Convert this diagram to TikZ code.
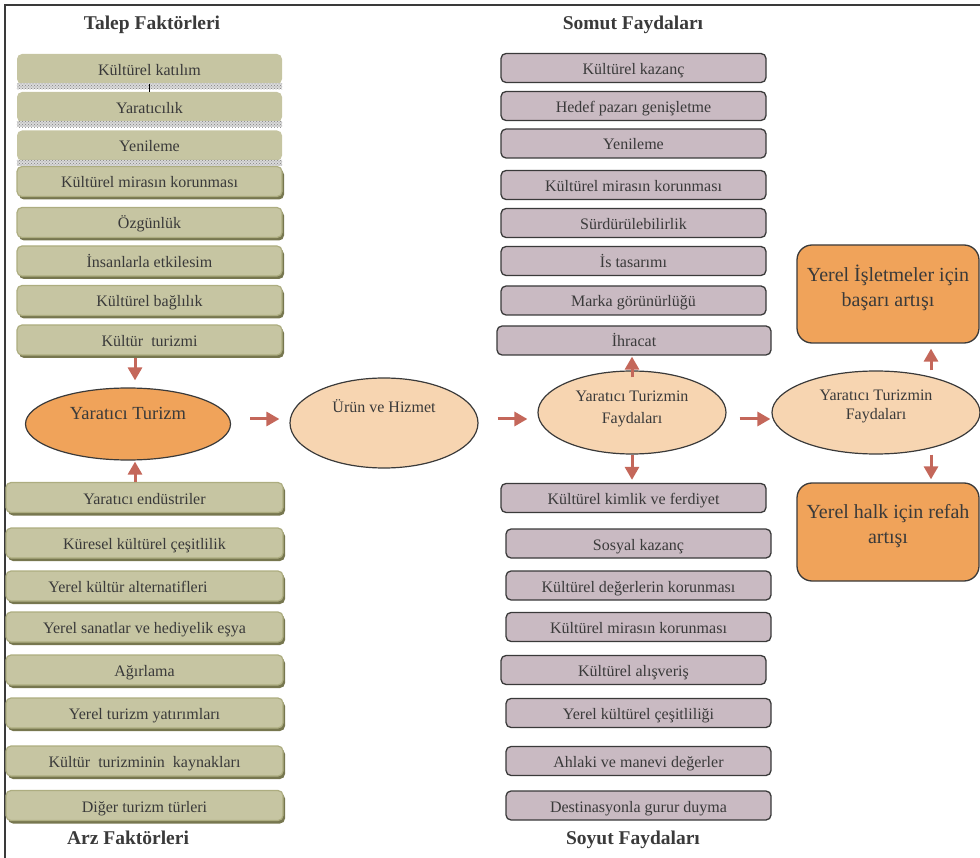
\documentclass[tikz,border=0pt]{standalone}
\usepackage{fontspec}
\setmainfont{Liberation Serif}
\usepackage{tikz}
\usetikzlibrary{arrows.meta, positioning, shapes.geometric, shadows, patterns}

\definecolor{talepGreen}{HTML}{C6C5A2}
\definecolor{talepRim}{HTML}{ADAD80}
\definecolor{talepShadow}{HTML}{77774F}
\definecolor{faydaPurple}{HTML}{C9BAC2}
\definecolor{turizmOrange}{HTML}{F0A35A}
\definecolor{faydaPeach}{HTML}{F7D5B1}
\definecolor{okRed}{HTML}{C4675A}
\definecolor{lineGray}{HTML}{3A3A3A}
\definecolor{textGray}{HTML}{3A3A3A}

\begin{document}
\begin{tikzpicture}[x=1pt, y=-1pt, text=textGray,
    font=\fontsize{16}{19}\selectfont,
    factorTex/.style={fill=talepGreen, rounded corners=5pt, minimum height=30pt, inner sep=0pt, text height=14pt, text depth=1pt},
    factor/.style={factorTex, draw=talepRim, line width=1.2pt,
        drop shadow={shadow xshift=2pt, shadow yshift=-3pt, fill=talepShadow, opacity=1}},
    fayda/.style={draw=lineGray, line width=1.3pt, fill=faydaPurple, rounded corners=5pt, minimum height=29pt, inner sep=0pt, text height=14pt, text depth=1pt},
    oval/.style={ellipse, draw=lineGray, line width=1.2pt, fill=faydaPeach, inner sep=0pt, align=center},
    result/.style={draw=lineGray, line width=1.3pt, fill=turizmOrange, rounded corners=15pt, minimum width=182pt, minimum height=98pt, inner sep=0pt, align=center, font=\fontsize{20}{25}\selectfont},
    heading/.style={font=\fontsize{19.5}{22}\selectfont\bfseries},
    okArrow/.style={draw=okRed, line width=3pt, -{Triangle[width=14pt, length=13pt]}}]

    \useasboundingbox (0,0) rectangle (980,858);
    \draw[lineGray, line width=2.2pt] (5,858) -- (5,5) -- (980,5);

    % Headings
    \node (talepTitle) [heading] at (152,25) {Talep Faktörleri};
    \node (arzTitle) [heading] at (128,838) {Arz Faktörleri};
    \node (somutTitle) [heading] at (633,25) {Somut Faydaları};
    \node (soyutTitle) [heading] at (633,840) {Soyut Faydaları};

    % Talep factors (top left)
    \node (tk1) [factorTex, minimum width=265pt] at (149.5,69) {Kültürel katılım};
    \node (tk2) [factorTex, minimum width=265pt] at (149.5,107) {Yaratıcılık};
    \node (tk3) [factorTex, minimum width=265pt] at (149.5,145.5) {Yenileme};
    \node (tk4) [factor, minimum width=265pt] at (149.5,181.5) {Kültürel mirasın korunması};
    \node (tk5) [factor, minimum width=265pt] at (149.5,222.5) {Özgünlük};
    \node (tk6) [factor, minimum width=265pt] at (149.5,261) {İnsanlarla etkilesim};
    \node (tk7) [factor, minimum width=265pt] at (149.5,300.5) {Kültürel bağlılık};
    \node (tk8) [factor, minimum width=265pt] at (149.5,340) {Kültür~ turizmi};

    % textured bottom strips of the first three
    \path[fill=gray!30, postaction={pattern=crosshatch dots, pattern color=gray}] ([yshift=1pt]tk1.south west) rectangle ([yshift=-5pt]tk1.south east);
    \path[fill=gray!30, postaction={pattern=crosshatch dots, pattern color=gray}] ([yshift=1pt]tk2.south west) rectangle ([yshift=-5pt]tk2.south east);
    \path[fill=gray!30, postaction={pattern=crosshatch dots, pattern color=gray}] ([yshift=1pt]tk3.south west) rectangle ([yshift=-5pt]tk3.south east);
    \draw[line width=1pt, black] (tk1.south) -- (tk2.north);

    % Arz factors (bottom left)
    \node (az1) [factor, minimum width=277pt] at (144.5,497.5) {Yaratıcı endüstriler};
    \node (az2) [factor, minimum width=277pt] at (144.5,543) {Küresel kültürel çeşitlilik};
    \node (az3) [factor, minimum width=277pt] at (144.5,586) {Yerel kültür alternatifleri\hspace*{33pt}};
    \node (az4) [factor, minimum width=277pt] at (144.5,627) {Yerel sanatlar ve hediyelik eşya};
    \node (az5) [factor, minimum width=277pt] at (144.5,670) {Ağırlama};
    \node (az6) [factor, minimum width=277pt] at (144.5,713) {Yerel turizm yatırımları};
    \node (az7) [factor, minimum width=277pt] at (144.5,761) {Kültür~ turizminin~ kaynakları};
    \node (az8) [factor, minimum width=277pt] at (144.5,805.5) {Diğer turizm türleri};

    % Somut benefits
    \node (sm1) [fayda, minimum width=265pt] at (633.5,68) {Kültürel kazanç};
    \node (sm2) [fayda, minimum width=265pt] at (633.5,106) {Hedef pazarı genişletme};
    \node (sm3) [fayda, minimum width=265pt] at (633.5,143.5) {Yenileme};
    \node (sm4) [fayda, minimum width=265pt] at (633.5,185) {Kültürel mirasın korunması};
    \node (sm5) [fayda, minimum width=265pt] at (633.5,223) {Sürdürülebilirlik};
    \node (sm6) [fayda, minimum width=265pt] at (633.5,261) {İs tasarımı};
    \node (sm7) [fayda, minimum width=265pt] at (633.5,300.5) {Marka görünürlüğü};
    \node (sm8) [fayda, minimum width=274pt] at (634,340.5) {İhracat};

    % Soyut benefits
    \node (sy1) [fayda, minimum width=265pt] at (633.5,498) {Kültürel kimlik ve ferdiyet};
    \node (sy2) [fayda, minimum width=265pt] at (638.5,543.5) {Sosyal kazanç};
    \node (sy3) [fayda, minimum width=265pt] at (638.5,585.5) {Kültürel değerlerin korunması};
    \node (sy4) [fayda, minimum width=265pt] at (638.5,627) {Kültürel mirasın korunması};
    \node (sy5) [fayda, minimum width=265pt] at (633.5,670) {Kültürel alışveriş};
    \node (sy6) [fayda, minimum width=265pt] at (638.5,713) {Yerel kültürel çeşitliliği};
    \node (sy7) [fayda, minimum width=265pt] at (638.5,761) {Ahlaki ve manevi değerler};
    \node (sy8) [fayda, minimum width=265pt] at (638.5,805.5) {Destinasyonla gurur duyma};

    % Ellipses along the middle row
    \node (yaraticiTurizm) [oval, fill=turizmOrange, minimum width=205pt, minimum height=72pt, text depth=22pt, font=\fontsize{18.5}{22}\selectfont] at (128,424) {Yaratıcı Turizm};
    \node (urunHizmet) [oval, minimum width=188pt, minimum height=90pt, text depth=34pt] at (384,423) {Ürün ve Hizmet};
    \node (faydalarA) [oval, minimum width=188pt, minimum height=83pt, text depth=11.5pt, font=\fontsize{16}{22}\selectfont] at (632,412.5) {Yaratıcı Turizmin\\Faydaları};
    \node (faydalarB) [oval, minimum width=208pt, minimum height=83pt, text depth=15.5pt] at (876,412.5) {Yaratıcı Turizmin\\Faydaları};

    % Results
    \node (isletme) [result, text depth=17pt] at (888,294) {Yerel İşletmeler için\\başarı artışı};
    \node (halk) [result, text depth=17pt] at (888,532) {Yerel halk için refah\\artışı};

    % Arrows
    \draw[okArrow, shorten <=2pt, shorten >=7pt] ([xshift=-14.5pt]tk8.south) -- ([xshift=-14.5pt]tk8.south |- yaraticiTurizm.north);
    \draw[okArrow, shorten >=1pt] ([xshift=-9.5pt]az1.north) -- ([xshift=-9.5pt]az1.north |- yaraticiTurizm.south);
    \draw[okArrow, shorten <=19pt, shorten >=10pt] (yaraticiTurizm.east |- 0,419) -- (urunHizmet.west |- 0,419);
    \draw[okArrow, shorten <=19pt, shorten >=10pt] (urunHizmet.east |- 0,419) -- (faydalarA.west |- 0,419);
    \draw[okArrow, shorten <=13pt, shorten >=1pt] (faydalarA.east |- 0,419) -- (faydalarB.west |- 0,419);
    \draw[okArrow, shorten >=1pt] ([yshift=-7pt]faydalarA.north) -- (faydalarA.north |- sm8.south);
    \draw[okArrow, shorten >=3pt] (faydalarA.south) -- (faydalarA.south |- sy1.north);
    \draw[okArrow, shorten >=5pt] ([xshift=43pt]isletme.south |- faydalarB.north) -- ([xshift=43pt]isletme.south);
    \draw[okArrow, shorten >=3pt] ([xshift=43pt]halk.north |- faydalarB.south) -- ([xshift=43pt]halk.north);

\end{tikzpicture}
\end{document}
